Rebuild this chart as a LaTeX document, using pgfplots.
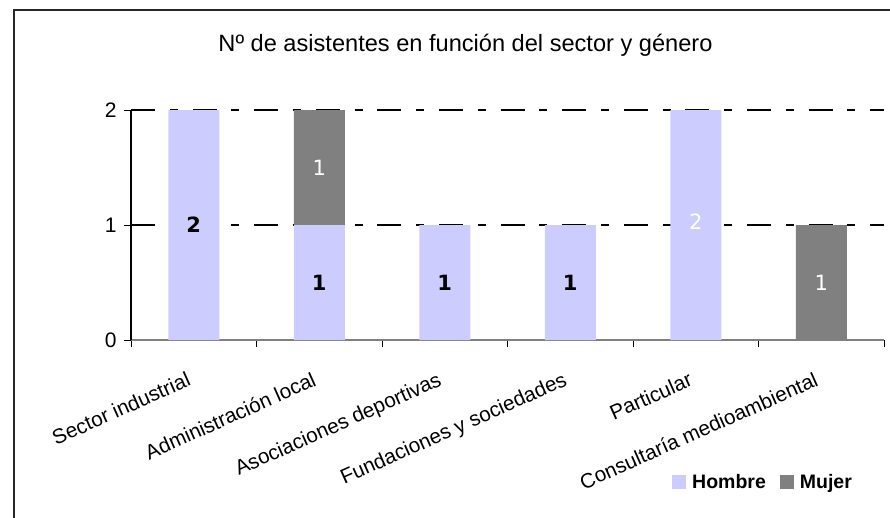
\documentclass[border=0pt]{standalone}
\usepackage{pgfplots}
\pgfplotsset{compat=1.18}
\usepackage{fontspec}
\setmainfont{Liberation Sans}
\newfontfamily\dejavu{DejaVu Sans}
\definecolor{hombre}{HTML}{CCCCFF}
\definecolor{mujer}{HTML}{808080}
\begin{document}
\begin{tikzpicture}[x=1pt,y=1pt]
\useasboundingbox (0pt,0pt) rectangle (890pt,517pt);
\draw[line width=2pt, black!85] (14pt,-5pt) -- (14pt,507pt) -- (895pt,507pt);
\node[font=\fontsize{23.6}{26}\selectfont] at (465.5pt,472pt) {Nº de asistentes en función del sector y género};
\begin{axis}[
  at={(131pt,177pt)}, anchor=south west,
  scale only axis, width=753pt, height=230pt,
  xmin=-0.5, xmax=5.5, ymin=0, ymax=2,
  clip=false,
  ybar stacked, bar width=51pt,
  axis lines=left, axis line style={-},
  x axis line style={draw=gray, line width=2pt},
  y axis line style={draw=black, line width=1.2pt},
  tick align=outside,
  major tick length=7pt,
  tick style={black, line width=1pt},
  xtick={-0.5,0.5,...,5.5}, xticklabels={},
  extra x ticks={0,1,2,3,4,5},
  extra x tick labels={Sector industrial, Administración local, Asociaciones deportivas, Fundaciones y sociedades, Particular, Consultaría medioambiental},
  extra x tick style={major tick length=0pt},
  xticklabel style={xshift=-8pt, yshift=-31pt, rotate=24, anchor=north east, inner sep=0pt, font=\fontsize{20.7}{22}\selectfont},
  ytick={1,2},
  extra y ticks={0},
  extra y tick style={grid=none},
  ymajorgrids,
  grid style={black, line width=1.2pt, dash pattern=on 24pt off 14.8pt on 8pt off 14.8pt},
  /pgf/number format/assume math mode=true,
  yticklabel style={font=\fontsize{21}{24}\selectfont, xshift=-4pt},
  legend columns=2,
  legend style={draw=none, fill=none, at={(0.7185,-0.617)}, anchor=west, inner sep=0pt,
    nodes={inner sep=0pt},
    font=\bfseries\fontsize{19.5}{22}\selectfont,
    /tikz/every odd column/.append style={column sep=6pt},
    /tikz/every even column/.append style={column sep=14pt}},
]
\addplot[fill=hombre, draw=none, legend image code/.code={\fill[hombre] (0pt,-7pt) rectangle (14pt,7pt);}] coordinates {(0,2) (1,1) (2,1) (3,1) (4,2) (5,0)};
\addplot[fill=mujer, draw=none, legend image code/.code={\fill[mujer] (0pt,-7pt) rectangle (14pt,7pt);}] coordinates {(0,0) (1,1) (2,0) (3,0) (4,0) (5,1)};
\legend{Hombre, Mujer}
\end{axis}
\begin{axis}[
  at={(131pt,177pt)}, anchor=south west,
  scale only axis, width=753pt, height=230pt,
  xmin=-0.5, xmax=5.5, ymin=0, ymax=2,
  clip=false, hide axis,
]
\addplot[draw=none, mark=none, nodes near coords, point meta=explicit symbolic,
  every node near coord/.append style={anchor=center, text=black, font=\dejavu\bfseries\fontsize{21}{24}\selectfont}]
  coordinates {(0,1)[2] (1,0.5)[1] (2,0.5)[1] (3,0.5)[1]};
\addplot[draw=none, mark=none, nodes near coords, point meta=explicit symbolic,
  every node near coord/.append style={anchor=center, text=white, font=\dejavu\fontsize{21}{24}\selectfont}]
  coordinates {(1,1.5)[1] (4,1.03)[2] (5,0.5)[1]};
\end{axis}
\end{tikzpicture}
\end{document}
